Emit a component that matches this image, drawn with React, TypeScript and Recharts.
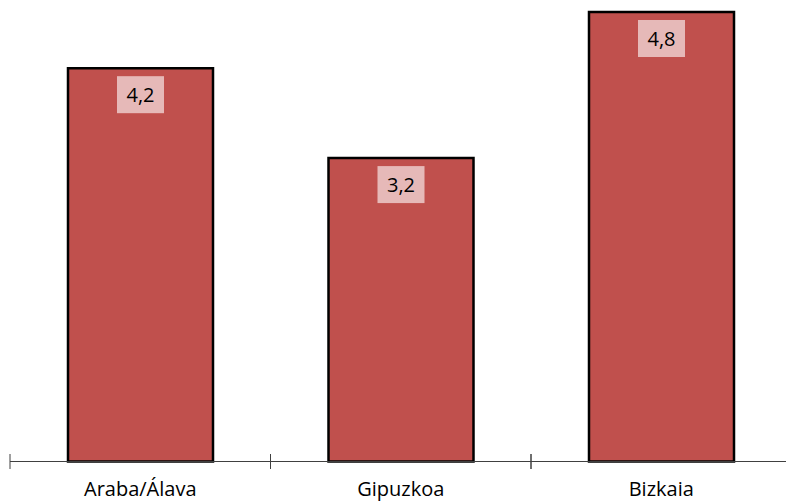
import { BarChart, Bar, XAxis, YAxis, LabelList } from "recharts";

const provinces = ["Araba/Álava", "Gipuzkoa", "Bizkaia"];
const rates = [4.2, 3.24, 4.8];

const chartData = provinces.map((name, i) => ({ name, value: rates[i] }));

const FONT = "'Open Sans', sans-serif";

const ValueBadge = (props: any) => {
  const { x, y, width, value } = props;
  const cx = x + width / 2;
  const boxW = 47;
  const boxH = 37;
  const top = y + 8;
  return (
    <g>
      <rect x={cx - boxW / 2} y={top} width={boxW} height={boxH} fill="#E6B9B8" />
      <text
        x={cx}
        y={top + boxH / 2}
        textAnchor="middle"
        dominantBaseline="central"
        fontFamily={FONT}
        fontSize={20}
        fill="#000"
      >
        {Number(value).toFixed(1).replace(".", ",")}
      </text>
    </g>
  );
};

// boundary ticks straddle the axis line, labels sit below
const CategoryTick = (props: any) => {
  const { x, y, payload } = props;
  const half = 130.25;
  const axisY = y - 8;
  return (
    <g>
      <line x1={x - half} x2={x - half} y1={axisY - 7.5} y2={axisY + 7.5} stroke="#404040" strokeWidth={1} />
      <line x1={x + half} x2={x + half} y1={axisY - 7.5} y2={axisY + 7.5} stroke="#404040" strokeWidth={1} />
      <text x={x} y={y + 26} textAnchor="middle" fontFamily={FONT} fontSize={20} fill="#000">
        {payload.value}
      </text>
    </g>
  );
};

export default function App() {
  return (
    <div
      style={{
        position: "absolute",
        top: 0,
        left: 0,
        width: 786,
        height: 502,
        overflow: "hidden",
        background: "#fff",
      }}
    >
      <BarChart
        width={800}
        height={502}
        data={chartData}
        margin={{ top: 12, right: 8.5, bottom: 0, left: 10 }}
      >
        <XAxis
          dataKey="name"
          height={40.5}
          stroke="#404040"
          tickLine={false}
          tick={<CategoryTick />}
          interval={0}
        />
        <YAxis hide domain={[0, 4.8]} />
        <Bar
          dataKey="value"
          fill="#C0504D"
          stroke="#000"
          strokeWidth={2.5}
          barSize={145}
          isAnimationActive={false}
        >
          <LabelList dataKey="value" content={<ValueBadge />} />
        </Bar>
      </BarChart>
    </div>
  );
}
